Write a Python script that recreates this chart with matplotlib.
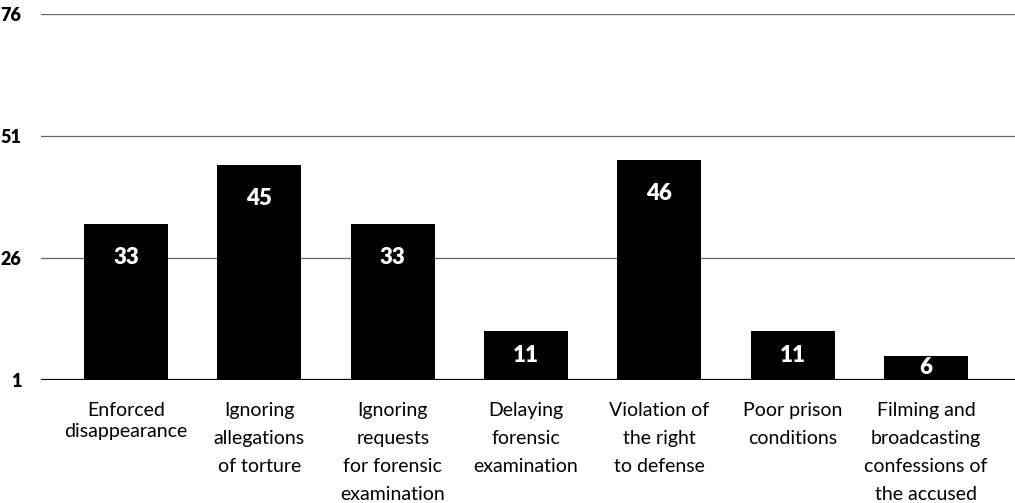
import matplotlib
matplotlib.use("Agg")
import matplotlib.pyplot as plt

plt.rcParams['font.family'] = ['Lato', 'DejaVu Sans']

categories = [
    "Enforced\ndisappearance",
    "Ignoring\nallegations\nof torture",
    "Ignoring\nrequests\nfor forensic\nexamination",
    "Delaying\nforensic\nexamination",
    "Violation of\nthe right\nto defense",
    "Poor prison\nconditions",
    "Filming and\nbroadcasting\nconfessions of\nthe accused",
]
values = [33, 45, 33, 11, 46, 11, 6]
y_ticks = [1, 26, 51, 76]

fig = plt.figure(figsize=(10.15, 5.03), dpi=100)
ax = fig.add_axes([0.0404, 0.2445, 0.9596, 0.7277])

x = list(range(len(values)))
ax.bar(x, values, width=0.63, color="black", zorder=3)

# value labels: ~33px below bar top, or centred for short bars
for xi, v in zip(x, values):
    y = max(v - 6.8, (1 + v) / 2)
    ax.text(xi, y, str(v), color="white", ha="center", va="center",
            fontsize=16, fontweight="heavy", zorder=4)

ax.set_ylim(1, 76)
ax.set_xlim(-0.638, 6.668)
ax.set_yticks(y_ticks)
ax.set_yticklabels([str(t) for t in y_ticks], fontsize=13, fontweight="heavy")
for t in y_ticks[1:]:
    ax.axhline(t, color="#666666", linewidth=0.9, zorder=1)
ax.axhline(1, color="black", linewidth=1.6, zorder=5)

ax.set_xticks(x)
ax.set_xticklabels(categories, fontsize=14, linespacing=1.8, va="top")
ax.get_xticklabels()[0].set_linespacing(1.3)
ax.tick_params(axis="both", length=0)
ax.tick_params(axis="y", pad=14)
ax.tick_params(axis="x", pad=15.5)
for s in ax.spines.values():
    s.set_visible(False)

fig.savefig("out.png", dpi=100)
